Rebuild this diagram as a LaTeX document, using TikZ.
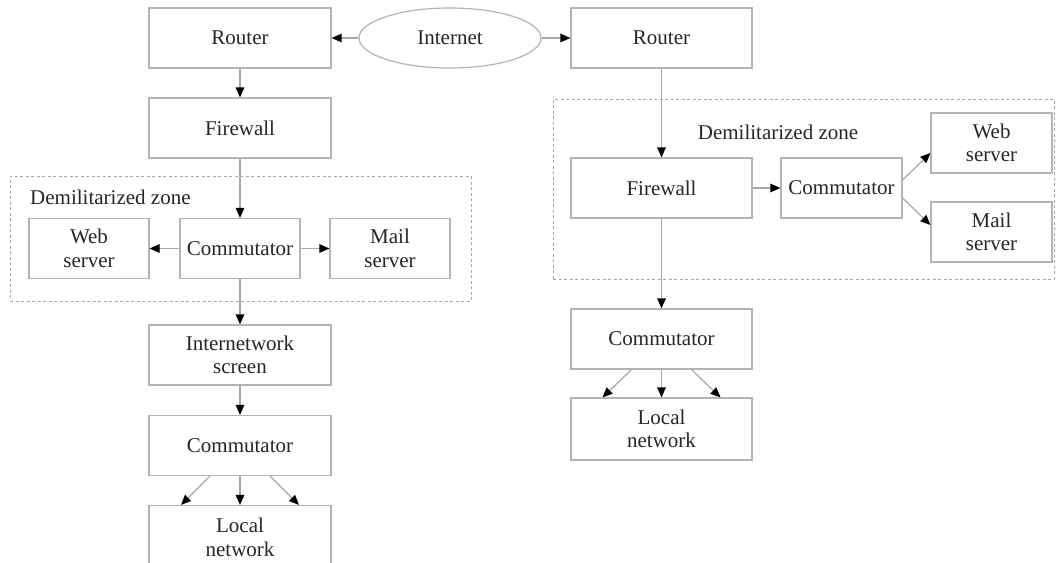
\documentclass[tikz,border=0pt]{standalone}
\usepackage{fontspec}
\setmainfont{Liberation Serif}
\usetikzlibrary{arrows.meta,shapes.geometric,calc}
\definecolor{boxc}{HTML}{B4B4B4}
\definecolor{linec}{HTML}{A8A8A8}
\definecolor{txtc}{HTML}{262626}
\begin{document}
\begin{tikzpicture}[x=1pt,y=-1pt,
  box/.style={draw=boxc,line width=1.2pt,rectangle,minimum width=182pt,minimum height=60pt,inner sep=2pt,align=center,text=txtc,font=\fontsize{21}{23.5}\selectfont},
  sbox/.style={box,minimum width=121pt},
  oval/.style={box,ellipse,minimum width=182pt,minimum height=60pt},
  dmz/.style={draw=linec,line width=1pt,dash pattern=on 3pt off 2.5pt,rectangle,inner sep=0pt},
  lbl/.style={text=txtc,font=\fontsize{21}{23.5}\selectfont,inner sep=0pt},
  arr/.style={draw=linec,line width=1.2pt,-{Triangle[length=10pt,width=8.5pt,color=black]}},
  ln/.style={draw=linec,line width=1.2pt}]
\clip (0,0) rectangle (1056,562);
\fill[white] (0,0) rectangle (1056,562);
% demilitarized zones
\node[dmz,minimum width=461pt,minimum height=125pt] (dmzL) at (240.5,238.5) {};
\node[dmz,minimum width=501pt,minimum height=180pt] (dmzR) at (803.5,189) {};
\node[lbl,anchor=west] (dmzLlbl) at (30,197) {Demilitarized zone};
\node[lbl] (dmzRlbl) at (778,132) {Demilitarized zone};
% top row
\node[oval] (inet) at (450,38) {Internet};
\node[box] (routerL) at (240,38) {Router};
\node[box,minimum width=181pt] (routerR) at (661.5,38) {Router};
% left column
\node[box] (fwL) at (240,128) {Firewall};
\node[sbox,minimum width=120pt] (webL) at (89,248.5) {Web\\server};
\node[sbox,minimum width=120pt] (commL) at (240,248.5) {Commutator};
\node[sbox,minimum width=120pt] (mailL) at (390,248.5) {Mail\\server};
\node[box] (isL) at (240,355) {Internetwork\\screen};
\node[box] (comm2L) at (240,445.5) {Commutator};
\node[box,minimum height=64pt] (localL) at (240,537.5) {Local\\network};
% right column
\node[box,minimum width=181pt] (fwR) at (661.5,188) {Firewall};
\node[sbox] (commR) at (841.5,188) {Commutator};
\node[sbox] (webR) at (991.5,143) {Web\\server};
\node[sbox] (mailR) at (991.5,232) {Mail\\server};
\node[box,minimum width=181pt] (comm3R) at (661.5,339) {Commutator};
\node[box,minimum width=181pt,minimum height=62pt] (localR) at (661.5,429) {Local\\network};
% connectors left
\draw[arr] (inet.west) -- (routerL.east);
\draw[arr] (inet.east) -- (routerR.west);
\draw[arr] (routerL.south) -- (fwL.north);
\draw[arr] (fwL.south) -- (commL.north);
\draw[arr] (commL.west) -- (webL.east);
\draw[arr] (commL.east) -- (mailL.west);
\draw[arr] (commL.south) -- (isL.north);
\draw[arr] (isL.south) -- (comm2L.north);
\draw[arr] ($(comm2L.south)+(-30,0)$) -- ($(localL.north)+(-59,0)$);
\draw[arr] (comm2L.south) -- (localL.north);
\draw[arr] ($(comm2L.south)+(30,0)$) -- ($(localL.north)+(59,0)$);
% connectors right
\draw[arr] (routerR.south) -- (fwR.north);
\draw[arr] (fwR.east) -- (commR.west);
\draw[arr] ($(commR.east)+(0,-8)$) -- ($(webR.west)+(0,10)$);
\draw[arr] ($(commR.east)+(0,10)$) -- ($(mailR.west)+(0,-7)$);
\draw[arr] (fwR.south) -- (comm3R.north);
\draw[arr] ($(comm3R.south)+(-30,0)$) -- ($(localR.north)+(-59,0)$);
\draw[arr] (comm3R.south) -- (localR.north);
\draw[arr] ($(comm3R.south)+(30,0)$) -- ($(localR.north)+(59,0)$);
\end{tikzpicture}
\end{document}
